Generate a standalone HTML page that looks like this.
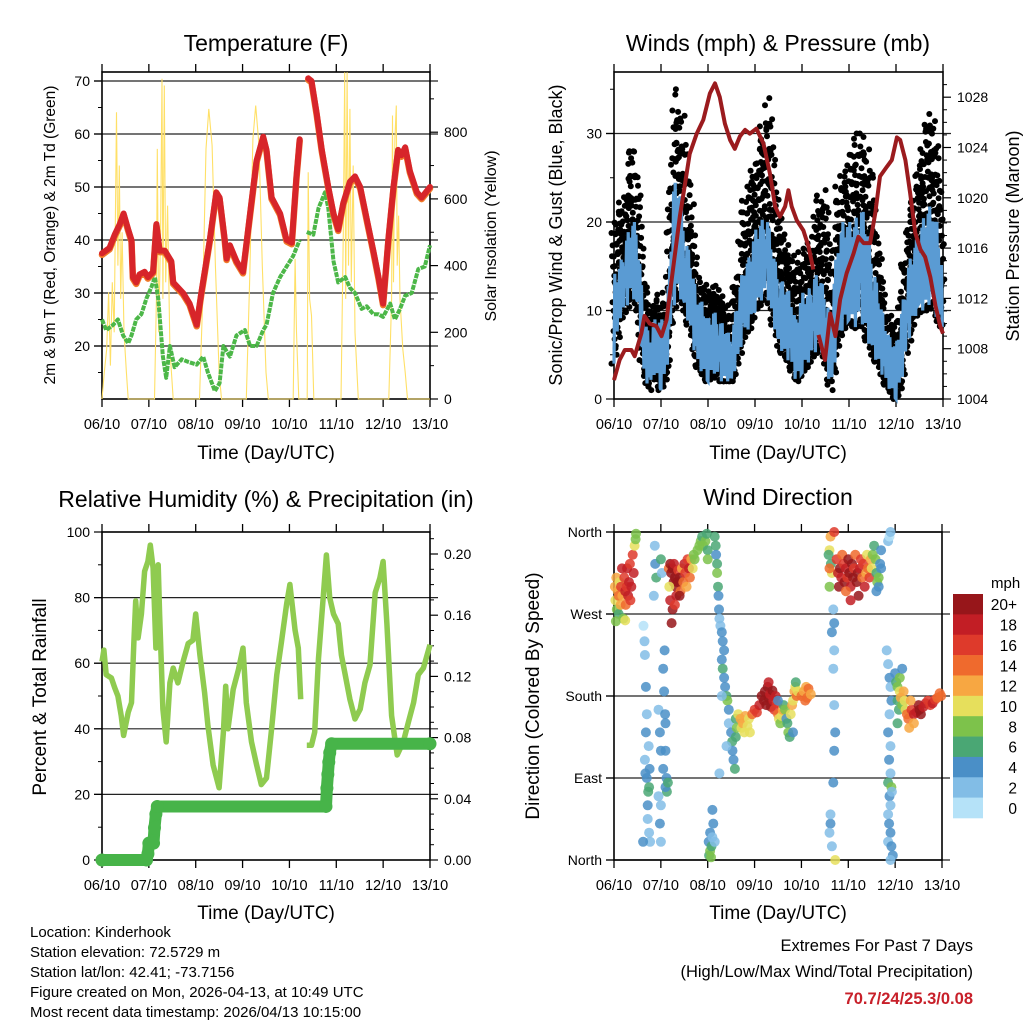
<!DOCTYPE html>
<html><head><meta charset="utf-8"><style>
html,body{margin:0;padding:0;background:#fff}
svg{display:block;font-family:"Liberation Sans",Arial,sans-serif}
</style></head><body>
<svg id="fig" width="1024" height="1024" viewBox="0 0 1024 1024" xmlns="http://www.w3.org/2000/svg">
<rect width="1024" height="1024" fill="#fff"/>
<g font-size="23" text-anchor="middle" fill="#000">
<text x="266" y="51">Temperature (F)</text>
<text x="778" y="51">Winds (mph) &amp; Pressure (mb)</text>
<text x="266" y="507">Relative Humidity (%) &amp; Precipitation (in)</text>
<text x="778" y="505">Wind Direction</text>
</g>
<g font-size="19" text-anchor="middle">
<text x="266" y="459">Time (Day/UTC)</text>
<text x="778" y="459">Time (Day/UTC)</text>
<text x="266" y="919">Time (Day/UTC)</text>
<text x="778" y="919">Time (Day/UTC)</text>
<text transform="translate(55,235) rotate(-90)" font-size="15.5">2m &amp; 9m T (Red, Orange) &amp; 2m Td (Green)</text>
<text transform="translate(496,236) rotate(-90)" font-size="16">Solar Insolation (Yellow)</text>
<text transform="translate(562,235) rotate(-90)" font-size="18">Sonic/Prop Wind &amp; Gust (Blue, Black)</text>
<text transform="translate(1019,236) rotate(-90)" font-size="18">Station Pressure (Maroon)</text>
<text transform="translate(46,697) rotate(-90)" font-size="19">Percent &amp; Total Rainfall</text>
<text transform="translate(539,696) rotate(-90)" font-size="19">Direction (Colored By Speed)</text>
</g>
<g font-size="15">
<text x="30" y="937">Location: Kinderhook</text>
<text x="30" y="957">Station elevation: 72.5729 m</text>
<text x="30" y="977">Station lat/lon: 42.41; -73.7156</text>
<text x="30" y="997">Figure created on Mon, 2026-04-13, at 10:49 UTC</text>
<text x="30" y="1017">Most recent data timestamp: 2026/04/13 10:15:00</text>
</g>
<g font-size="16.5" text-anchor="end">
<text x="973" y="951">Extremes For Past 7 Days</text>
<text x="973" y="977">(High/Low/Max Wind/Total Precipitation)</text>
<text x="973" y="1004" fill="#c8202a" font-weight="bold">70.7/24/25.3/0.08</text>
</g>
<g id="layer"></g>
</svg>
<script>
// ---------- DATA ----------
const dayLabels = ["06/10","07/10","08/10","09/10","10/10","11/10","12/10","13/10"];
const tempTicks = [20,30,40,50,60,70];
const solarTicks = [0,200,400,600,800];
const windTicks = [0,10,20,30];
const presTicks = [1004,1008,1012,1016,1020,1024,1028];
const rhTicks = [0,20,40,60,80,100];
const precTicks = ["0.00","0.04","0.08","0.12","0.16","0.20"];
const dirTicks = ["North","East","South","West","North"];

const tempTime = [0,0.16,0.27,0.38,0.46,0.56,0.63,0.66,0.73,0.80,0.91,0.98,1.09,1.16,1.23,1.34,1.48,1.52,1.73,1.87,2.02,2.12,2.30,2.44,2.51,2.62,2.66,2.73,2.87,3.01,3.16,3.30,3.44,3.51,3.62,3.80,3.94,4.05,4.15,4.22,4.30,4.40,4.47,4.58,4.69,4.83,4.94,5.04,5.15,5.29,5.40,5.51,5.65,5.79,5.90,6.00,6.11,6.22,6.32,6.39,6.47,6.57,6.72,6.82,7.0];
const tempVals = [37.5,38.5,41,43,45,42,40,33,32,33.5,34,33,34,43,38,38,36,32,30,28,24,30,40,49,48,40,36.5,39,36,34,45,55,59.5,57,48,45,40,39.5,52,59,null,70.5,70,64,57,50,45,42,47,51,52,50,44,38,33,28,40,50,57,56,57.5,53,49,48,50];
const dewTime = [0,0.09,0.24,0.34,0.45,0.56,0.63,0.73,0.84,0.95,1.05,1.13,1.20,1.30,1.37,1.45,1.55,1.70,1.84,2.02,2.16,2.26,2.41,2.51,2.59,2.73,2.87,3.05,3.16,3.30,3.44,3.51,3.65,3.80,3.94,4.08,4.22,4.30,4.37,4.51,4.62,4.76,4.83,4.94,5.04,5.19,5.29,5.40,5.54,5.65,5.79,5.90,6.00,6.15,6.25,6.36,6.47,6.61,6.75,6.89,7.0];
const dewVals = [25,23,24,25,22,20.5,22,25,26,29,31,33,29,18,14,20,16,17.5,17,16.5,18,15,11.5,13,20,18,22,23,20,20,23,24,30,33,35,37,40,null,41.5,41,46,49,46,36,32,33,31,30,27,27.5,26,26,25.5,28,25,27,29.5,30,34.5,35,39];
const solarTime = [0,0.05,0.1,0.14,0.18,0.22,0.26,0.31,0.34,0.37,0.40,0.43,0.47,0.52,0.56,1.12,1.16,1.18,1.21,1.25,1.28,1.30,1.33,1.36,1.40,1.45,1.52,2.08,2.15,2.22,2.28,2.35,2.42,2.5,2.55,3.08,3.15,3.22,3.28,3.35,3.42,3.5,3.55,4.08,4.12,4.15,4.2,4.38,4.40,4.43,4.47,4.52,5.1,5.15,5.18,5.2,5.23,5.26,5.29,5.32,5.36,5.4,5.47,6.12,6.18,6.2,6.22,6.25,6.28,6.3,6.33,6.36,6.42,6.47,6.52,7.0];
const solarVals = [0,80,150,320,100,350,200,860,400,700,300,500,200,80,0,0,300,750,200,500,960,300,940,350,580,150,0,0,300,750,870,760,400,80,0,0,350,780,880,760,400,80,0,0,420,200,0,0,680,300,250,0,0,500,980,300,980,400,870,350,700,200,0,0,300,850,350,780,880,400,550,300,150,80,0,0];

const windTime = [0,0.12,0.25,0.37,0.5,0.62,0.75,0.87,1.0,1.12,1.25,1.37,1.5,1.62,1.75,1.87,2.0,2.12,2.25,2.37,2.5,2.62,2.75,2.87,3.0,3.12,3.25,3.37,3.5,3.62,3.75,3.87,4.0,4.12,4.25,4.37,4.5,4.62,4.75,4.87,5.0,5.12,5.25,5.37,5.5,5.62,5.75,5.87,6.0,6.12,6.25,6.37,6.5,6.62,6.75,6.87,7.0];
const windLow = [4,9,10,12,10,3,1,3,1,3,10,12,10,8,4,3,2,3,2,2,2,4,7,8,10,11,12,9,6,5,4,2,3,4,5,6,4,1,6,8,9,8,9,7,5,4,2,1,0,2,6,9,10,10,11,9,8];
const windHigh = [14,15,18,20,20,10,7,9,9,9,24,25,19,16,12,11,9,10,9,8,7,11,15,16,19,20,21,17,14,13,12,9,12,12,14,14,12,9,18,20,20,20,22,20,16,12,9,7,6,10,15,17,19,21,22,20,14];
const gustHigh = [20.6,22,23,30,25,15,10,11,12,10,32,35,30,24,14,13.5,12,12.8,12,11,9,15,22,24,27,30,34,30,21,18,17,15,17,16,20,23,24,15,24,26,27,30,30,29,25,18,11,9,8,14,20,24,27,31,33,29,20];
const presTime = [0,0.12,0.23,0.37,0.44,0.58,0.65,0.76,0.90,1.01,1.12,1.19,1.29,1.40,1.51,1.61,1.76,1.90,2.04,2.15,2.25,2.36,2.47,2.57,2.68,2.79,2.89,3.03,3.18,3.32,3.43,3.53,3.64,3.71,3.78,3.89,4.03,4.14,4.24,4.30,4.35,4.49,4.60,4.71,4.81,4.95,5.10,5.20,5.31,5.45,5.56,5.66,5.81,5.91,6.02,6.09,6.20,6.30,6.41,6.52,6.62,6.73,6.84,6.94,7.0];
const presVals = [1005.5,1007.1,1007.9,1007.9,1007.4,1009.2,1010.6,1010.0,1009.8,1009.0,1010.3,1012.4,1015.3,1018.5,1021.1,1023.5,1025.1,1026.2,1028.3,1029.1,1028.0,1025.9,1024.6,1023.9,1024.9,1025.4,1025.1,1025.5,1024.3,1021.9,1019.3,1018.5,1019.3,1020.6,1019.3,1018.2,1017.4,1016.1,1014.3,null,1009.1,1007.1,1010.8,1009.0,1011.9,1014.0,1015.6,1016.9,1016.4,1016.4,1018.8,1021.7,1022.5,1023.0,1024.8,1024.6,1023.0,1020.4,1017.2,1015.9,1015.3,1013.7,1011.4,1009.8,1009.2];

const rhTime = [0,0.04,0.09,0.20,0.27,0.34,0.41,0.46,0.56,0.63,0.68,0.72,0.77,0.84,0.91,0.98,1.03,1.09,1.15,1.20,1.23,1.30,1.37,1.45,1.52,1.62,1.73,1.84,1.94,2.00,2.09,2.19,2.26,2.37,2.50,2.59,2.64,2.69,2.80,2.91,3.01,3.08,3.19,3.30,3.40,3.51,3.62,3.73,3.83,3.94,4.01,4.12,4.19,4.24,4.30,4.37,4.47,4.54,4.62,4.72,4.79,4.86,4.94,5.04,5.11,5.19,5.29,5.40,5.51,5.61,5.72,5.83,5.93,6.00,6.08,6.18,6.30,6.43,6.54,6.65,6.75,6.86,7.0];
const rhVals = [60.5,64,56.5,55.5,52.5,50,44,38,45,48,66.6,79,67.7,75,88,91,96,89,64.6,90,75,46,36,54,58.5,54,60.5,66,67,75,62.5,51,41,29,22,39,53,40,52,58,64.6,48,36,29,23,25,40,56.5,66.6,78,84,70,64.6,49,null,35,35,39,61.5,80,93,80,75,72,62.5,56.5,49,43,46,54,59.5,81.5,86,91,72,44,32,36,42,48,56.5,58.5,65.6];
const precTime = [0,0.95,0.98,1.0,1.1,1.12,1.15,1.18,4.78,4.8,4.82,4.84,4.86,4.9,7.0];
const precVals = [0,0,0.004,0.011,0.011,0.021,0.03,0.035,0.035,0.047,0.056,0.064,0.07,0.076,0.076];

const speedBins = ["0","2","4","6","8","10","12","14","16","18","20+"];
const windObs = [
[0.02,300,12],[0.03,285,10],[0.05,310,13],[0.06,275,8],[0.08,295,12],[0.1,290,14],[0.1,270,6],[0.12,305,11],[0.14,280,12],[0.15,300,16],[0.17,320,18],[0.18,290,13],[0.2,265,8],[0.22,310,17],[0.24,295,18],[0.25,280,14],[0.27,300,16],[0.28,320,18],[0.3,290,18],[0.32,305,19],[0.34,325,16],[0.35,285,17],[0.37,300,19],[0.4,335,17],[0.42,315,18],[0.44,345,10],[0.46,352,8],[0.47,358,8],[0.04,262,8],[0.24,263,11],
[0.63,257,1],[0.65,240,3],[0.66,225,2],[0.66,110,3],[0.68,190,4],[0.68,140,4],[0.7,160,2],[0.7,90,4],[0.72,60,4],[0.72,45,2],[0.73,75,6],[0.75,80,7],[0.75,30,3],[0.77,20,2],[0.62,20,4],[0.74,125,3],[0.76,100,5],[0.67,95,4],
[0.87,345,3],[0.88,325,5],[0.9,310,6],[0.85,290,2],[1.0,330,6],[1.02,315,3],[0.95,165,2],[0.98,140,4],[1.0,120,4],[1.05,210,4],[1.07,185,4],[1.09,160,4],[1.1,150,4],[1.1,120,4],[1.12,90,5],[1.13,75,6],[1.0,60,2],[0.98,40,4],[1.0,20,2],[1.1,80,4],[1.05,100,4],[1.08,230,4],[1.15,85,7],[0.95,70,3],
[1.17,320,14],[1.2,325,20],[1.22,315,20],[1.25,320,20],[1.27,305,20],[1.28,325,18],[1.3,310,20],[1.32,300,20],[1.33,290,18],[1.35,305,20],[1.37,318,16],[1.4,310,20],[1.42,295,14],[1.45,320,12],[1.48,305,14],[1.5,325,18],[1.52,315,16],[1.55,300,12],[1.57,330,16],[1.6,320,18],[1.62,310,14],[1.65,330,12],[1.68,320,10],[1.2,285,18],[1.25,275,20],[1.3,280,16],[1.4,290,20],[1.23,260,20],[1.18,300,10],[1.7,335,8],[1.72,330,8],
[1.78,340,8],[1.82,345,8],[1.85,350,8],[1.88,355,6],[1.9,345,8],[1.95,350,8],[1.98,358,6],[2.0,340,6],[2.0,330,8],
[2.02,20,4],[2.03,5,6],[2.05,10,8],[2.05,30,4],[2.07,3,8],[2.08,15,6],[2.1,25,2],[2.12,40,4],[2.15,20,2],[2.1,55,4],
[2.15,355,6],[2.17,345,6],[2.18,335,4],[2.2,325,6],[2.2,315,8],[2.22,300,6],[2.23,290,4],[2.24,275,4],[2.25,265,2],[2.27,257,2],[2.3,250,4],[2.32,240,4],[2.35,230,4],
[2.3,220,4],[2.32,210,6],[2.35,200,4],[2.37,190,4],[2.4,180,6],[2.42,175,8],[2.45,165,4],[2.45,150,2],[2.5,140,4],[2.52,130,6],[2.53,120,4],[2.55,110,4],[2.58,100,6],[2.6,155,6],[2.6,135,6],[2.62,145,8],[2.4,125,2],[2.25,95,2],[2.3,180,2],
[2.65,160,10],[2.7,155,12],[2.72,145,10],[2.75,150,12],[2.78,140,10],[2.8,158,12],[2.85,147,10],[2.88,155,11],[2.9,140,10],[2.95,160,14],[3.0,165,16],[3.05,162,16],[3.1,170,18],
[3.15,180,20],[3.2,175,20],[3.22,185,20],[3.25,170,20],[3.28,190,20],[3.3,178,20],[3.33,182,18],[3.35,168,20],[3.38,186,20],[3.4,175,18],[3.42,165,16],[3.45,180,18],[3.48,172,16],[3.5,160,14],[3.52,155,10],[3.55,150,8],[3.58,158,10],[3.6,165,12],[3.3,195,18],
[3.62,170,6],[3.65,165,8],[3.68,155,4],[3.7,150,6],[3.72,140,8],[3.75,135,6],[3.77,160,10],[3.8,170,12],[3.82,175,10],[3.85,185,12],[3.87,190,10],[3.88,195,6],[3.9,180,14],[3.92,185,10],[3.5,175,4],[3.82,140,4],
[4.0,180,14],[4.05,185,12],[4.08,175,14],[4.1,190,12],[4.12,178,14],[4.15,188,14],[4.2,182,12],
[4.62,355,12],[4.6,340,10],[4.58,335,6],[4.63,325,6],[4.65,315,10],[4.6,300,8],[4.65,250,4],[4.7,230,2],[4.68,210,2],[4.7,170,2],[4.72,140,4],[4.7,120,4],[4.68,85,4],[4.62,40,4],[4.6,30,2],[4.65,15,2],[4.62,50,2],[4.72,0,10],[4.7,260,4],[4.68,275,2],[4.7,360,16],[4.6,320,14],
[4.75,330,16],[4.78,315,18],[4.8,300,20],[4.82,320,20],[4.85,310,18],[4.87,335,14],[4.9,325,16],[4.92,305,20],[4.95,320,18],[4.98,310,16],[5.0,330,20],[5.02,315,20],[5.05,300,18],[5.08,325,20],[5.1,310,20],[5.12,320,16],[5.15,335,14],[5.18,305,20],[5.2,315,20],[5.22,290,20],[5.25,320,18],[5.27,330,16],[5.3,310,14],[5.32,325,16],[5.35,300,18],[5.38,315,12],[5.4,335,10],[5.42,320,14],[5.45,310,16],[5.48,330,12],[5.5,320,10],[5.52,335,8],[5.05,285,18],[4.95,295,14],
[5.55,345,6],[5.58,330,8],[5.6,315,6],[5.62,305,8],[5.65,300,4],[5.68,325,4],[5.7,340,4],[5.7,320,4],[5.6,295,4],[5.65,310,8],
[5.85,350,2],[5.88,355,0],[5.9,360,2],[5.82,230,2],[5.85,215,2],[5.88,200,4],[5.9,190,2],[5.92,175,4],[5.88,160,2],[5.85,140,4],[5.9,125,2],[5.87,110,4],[5.9,95,2],[5.85,85,6],[5.92,80,8],[5.88,70,4],[5.9,60,2],[5.85,50,2],[5.87,40,4],[5.9,30,4],[5.85,20,2],[5.92,15,4],[5.95,5,4],[5.9,0,2],[5.93,75,2],
[6.0,205,4],[6.02,195,6],[6.05,190,8],[6.05,175,6],[6.08,165,6],[6.1,185,10],[6.12,178,12],[6.15,170,8],[6.18,185,12],[6.2,175,10],[6.22,165,10],[6.25,160,14],[6.28,155,14],[6.3,145,12],[6.1,200,8],[6.15,210,4],[6.05,150,6],
[6.35,165,16],[6.4,160,18],[6.45,162,18],[6.5,170,20],[6.52,165,20],[6.55,160,20],[6.6,168,18],[6.65,172,18],[6.7,175,16],[6.75,170,16],[6.8,172,18],[6.85,176,16],[6.9,178,14],[6.95,183,14],[6.98,180,14],[6.4,150,12],[6.33,175,12]
];
const binColors = ["#b5e2f8","#82bde6","#4a8fc7","#4aa774","#7dc24b","#e6df5c","#f7a742","#ef6a2d","#de3a2b","#c21e25","#97161a"];

// ---------- SCALES ----------
const NS = "http://www.w3.org/2000/svg";
const layer = document.getElementById("layer");
function el(tag, attrs, parent){const e=document.createElementNS(NS,tag);for(const k in attrs)e.setAttribute(k,attrs[k]);(parent||layer).appendChild(e);return e;}
function xs(x0,x1){return t=>x0+t*(x1-x0)/7;}
const P1={x0:102,x1:430,top:72,bot:399}, P2={x0:614,x1:943,top:72,bot:399}, P3={x0:102,x1:430,top:532,bot:860}, P4={x0:614,x1:942,top:532,bot:860};
const x1s=xs(P1.x0,P1.x1), x2s=xs(P2.x0,P2.x1), x3s=xs(P3.x0,P3.x1), x4s=xs(P4.x0,P4.x1);
const yT=v=>81+(70-v)*5.3, yS=v=>399-v*0.3335;
const yW=v=>399-v*8.85, yP=p=>399-(p-1004)*12.575;
const yR=v=>860-v*3.28, yPr=v=>860-v*1530;
const yD=d=>860-d*328/360;
function pathOf(ts,vs,sx,sy){let d="",pen=false;for(let i=0;i<ts.length;i++){if(vs[i]===null){pen=false;continue;}d+=(pen?"L":"M")+sx(ts[i]).toFixed(1)+" "+sy(vs[i]).toFixed(1);pen=true;}return d;}

// ---------- FRAMES ----------
function frame(P,sx,name,gridYs,leftYs,leftLabels,rightYs,rightLabels,minorL,minorR,gridLeftExt){
  const g=el("g",{});
  
  
  gridYs.forEach(y=>{const l=el("line",{x1:P.x0-gridLeftExt,x2:P.x1+8,y1:y,y2:y,stroke:"#222","stroke-width":1.2},g);
    
    });
  el("rect",{x:P.x0,y:P.top,width:P.x1-P.x0,height:P.bot-P.top,fill:"none",stroke:"#000","stroke-width":1.6},g);
  for(let i=0;i<=7;i++){const x=sx(i);
    el("line",{x1:x,x2:x,y1:P.bot,y2:P.bot+8,stroke:"#000","stroke-width":1.3},g);
    el("line",{x1:x,x2:x,y1:P.top,y2:P.top-8,stroke:"#000","stroke-width":1.3},g);
    const t=el("text",{x:x,y:P.bot+30,"font-size":14.5,"text-anchor":"middle"},g);t.textContent=dayLabels[i];
    
    }
  leftYs.forEach((y,i)=>{el("line",{x1:P.x0-8,x2:P.x0,y1:y,y2:y,stroke:"#000","stroke-width":1.2},g);
    const t=el("text",{x:P.x0-12,y:y+5,"font-size":14,"text-anchor":"end"},g);t.textContent=leftLabels[i];
    
    });
  minorL.forEach(y=>el("line",{x1:P.x0-4,x2:P.x0,y1:y,y2:y,stroke:"#000","stroke-width":1},g));
  rightYs.forEach((y,i)=>{el("line",{x1:P.x1,x2:P.x1+8,y1:y,y2:y,stroke:"#000","stroke-width":1.2},g);
    const t=el("text",{x:P.x1+14,y:y+5,"font-size":14},g);t.textContent=rightLabels[i];
    
    });
  minorR.forEach(y=>el("line",{x1:P.x1,x2:P.x1+4,y1:y,y2:y,stroke:"#000","stroke-width":1},g));
}
frame(P1,x1s,"temperature",tempTicks.map(yT),tempTicks.map(yT),tempTicks,solarTicks.map(yS),solarTicks,[15,25,35,45,55,65].map(yT),[100,300,500,700,900].map(yS),8);
frame(P2,x2s,"winds",[10,20,30].map(yW),windTicks.map(yW),windTicks,presTicks.map(yP),presTicks,[5,15,25,35].map(yW),[1005,1006,1007,1009,1010,1011,1013,1014,1015,1017,1018,1019,1021,1022,1023,1025,1026,1027,1029].map(yP),8);
frame(P3,x3s,"humidity",[20,40,60,80].map(yR),rhTicks.map(yR),rhTicks,[0,0.04,0.08,0.12,0.16,0.20].map(yPr),precTicks,[10,30,50,70,90].map(yR),[0.01,0.02,0.03,0.05,0.06,0.07,0.09,0.1,0.11,0.13,0.14,0.15,0.17,0.18,0.19,0.21].map(yPr),8);
frame(P4,x4s,"direction",[0,90,180,270,360].map(yD),[0,90,180,270,360].map(yD),dirTicks,[],[],[],[],8);

// ---------- PANEL 1: Temperature ----------
const solar=el("path",{d:pathOf(solarTime,solarVals,x1s,yS),fill:"none",stroke:"#ffe067","stroke-width":1.1});


const dew=el("path",{d:pathOf(dewTime,dewVals,x1s,yT),fill:"none",stroke:"#4cb748","stroke-width":4,"stroke-linejoin":"round","stroke-dasharray":"5 1"});


const t9=el("path",{d:pathOf(tempTime,tempVals,x1s,v=>yT(v)+1.5),fill:"none",stroke:"#f07a2a","stroke-width":6.5,"stroke-linejoin":"round","stroke-linecap":"round"});


const t2=el("path",{d:pathOf(tempTime,tempVals,x1s,yT),fill:"none",stroke:"#d7252a","stroke-width":6,"stroke-linejoin":"round","stroke-linecap":"round"});



// ---------- PANEL 2: Winds ----------
const gustG=el("g",{fill:"#000"});


const jit=[-2.5,1.5,-0.5,2.5,-1.5,0.5,2,-2];
for(let i=0;i<windTime.length-1;i++){
  for(let s=0;s<5;s++){
    const f=s/5, t=windTime[i]+f*(windTime[i+1]-windTime[i]);
    const lo=windLow[i]+f*(windLow[i+1]-windLow[i]);
    const gh=gustHigh[i]+f*(gustHigh[i+1]-gustHigh[i]);
    for(let k=0;k<10;k++){
      const v=lo+(gh-lo)*(k/9)*(0.88+0.12*((i+s+k)%3)/2);
      el("circle",{cx:(x2s(t)+jit[(i*5+s+k)%8]).toFixed(1),cy:yW(v).toFixed(1),r:3},gustG);
    }
  }
}
let zz="";
for(let i=0;i<windTime.length-1;i++){
  const xa=x2s(windTime[i]), xb=x2s(windTime[i+1]);
  const n=Math.max(2,Math.round((xb-xa)/0.8));
  for(let j=0;j<n;j++){
    const f=j/n, lo=windLow[i]+f*(windLow[i+1]-windLow[i]), hi=windHigh[i]+f*(windHigh[i+1]-windHigh[i]);
    const a=[0,1,0.25,0.85,0.1,0.7,0.35,0.95][(i*7+j)%8];
    zz+=(zz?"L":"M")+(xa+f*(xb-xa)).toFixed(1)+" "+yW(lo+a*(hi-lo)).toFixed(1);
  }
}
const windLine=el("path",{d:zz,fill:"none",stroke:"#5a9bd3","stroke-width":3.2});


const pres=el("path",{d:pathOf(presTime,presVals,x2s,yP),fill:"none",stroke:"#9b1b1e","stroke-width":4,"stroke-linejoin":"round"});



// ---------- PANEL 3: RH & precip ----------
const rh=el("path",{d:pathOf(rhTime,rhVals,x3s,yR),fill:"none",stroke:"#8fcb50","stroke-width":5.5,"stroke-linejoin":"round"});


const prec=el("path",{d:pathOf(precTime,precVals,x3s,yPr),fill:"none",stroke:"#47b449","stroke-width":12,"stroke-linecap":"round","stroke-linejoin":"round"});


precTime.forEach((t,i)=>{const c=el("circle",{cx:x3s(t),cy:yPr(precVals[i]),r:6.5,fill:"#47b449"});
  
  });

// ---------- PANEL 4: Wind direction ----------
const dirG=el("g",{"fill-opacity":0.85});


windObs.forEach(o=>{const b=Math.min(10,Math.floor(o[2]/2));
  const c=el("circle",{cx:x4s(o[0]).toFixed(1),cy:yD(o[1]).toFixed(1),r:5,fill:binColors[b]},dirG);
  
  });

// colorbar
const cb=el("g",{});


const mph=el("text",{x:991,y:588,"font-size":15},cb);mph.textContent="mph";


const bh=(818-594)/11;
for(let i=0;i<11;i++){
  const bin=10-i, y=594+i*bh;
  el("rect",{x:953,y:y,width:30,height:bh+0.3,fill:binColors[bin]},cb);
  const t=el("text",{x:1017,y:y+bh/2+6,"font-size":15.5,"text-anchor":"end"},cb);t.textContent=speedBins[bin];
  
  
}
</script>
</body></html>
